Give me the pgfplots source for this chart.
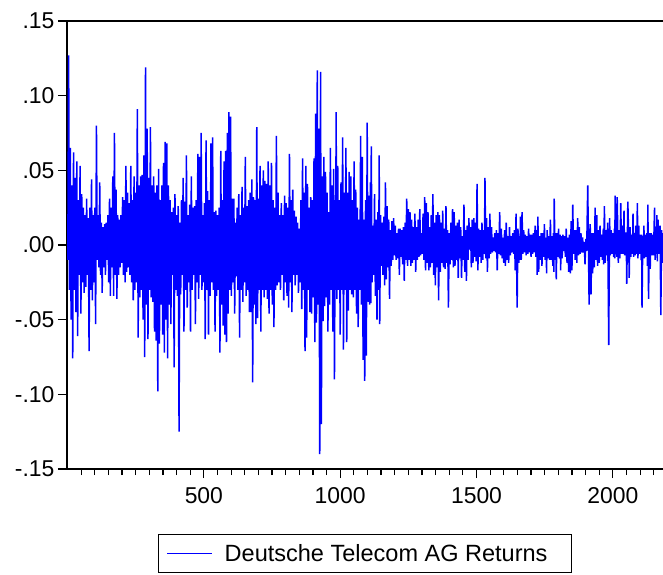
\documentclass[border=0pt]{standalone}
\usepackage{fontspec}
\setmainfont{Liberation Sans}
\usepackage{pgfplots}
\pgfplotsset{compat=1.18}
\begin{document}
\begin{tikzpicture}
\begin{axis}[
  scale only axis,
  width=596bp, height=448bp,
  xmin=-2, xmax=2184,
  ymin=-0.15, ymax=0.15,
  axis x line*=box, axis y line*=left,
  axis line style={line width=1.6bp, black},
  xtick={500,1000,1500,2000},
  xticklabels={500,1000,1500,2000},
  minor xtick={50,100,...,2150},
  ytick={-0.15,-0.10,-0.05,0,0.05,0.10,0.15},
  yticklabels={-.15,-.10,-.05,.00,.05,.10,.15},
  tick align=outside,
  xtick pos=bottom, ytick pos=left,
  major tick length=9bp, minor tick length=6bp,
  every tick/.style={black, line width=1.2bp},
  tick label style={font=\fontsize{23}{27}\selectfont},
  xticklabel style={yshift=-6bp},
  legend style={at={(0.5,-0.1451)}, anchor=north, draw=black, line width=1bp,
    inner xsep=8bp, inner ysep=6.5bp, nodes={inner sep=3bp},
    font=\fontsize{23.6}{28}\selectfont},
  legend image code/.code={\draw[#1, line width=1.2bp] (0bp,0bp) -- (45bp,0bp);},
]
\addplot[blue, line width=1.5bp] coordinates {
(1,-0.010)(4,0.127)(7,-0.030)(10,0.065)(13,-0.050)(16,0.040)(19,-0.076)(22,0.062)(25,-0.030)(28,0.045)(31,-0.045)(34,0.056)(37,-0.061)(40,0.030)(43,-0.020)(46,0.053)(49,-0.046)(52,0.034)(55,-0.025)(58,0.025)(61,-0.032)(64,0.020)(67,-0.028)(70,0.031)(73,-0.020)(76,0.018)(79,-0.071)(82,0.025)(85,-0.030)(88,0.044)(91,-0.037)(94,0.020)(97,-0.025)(100,0.025)(103,-0.053)(106,0.080)(109,-0.010)(112,0.020)(115,-0.015)(118,0.042)(121,-0.020)(124,0.015)(127,-0.032)(130,0.012)(133,-0.015)(136,0.014)(139,-0.020)(142,0.015)(145,-0.010)(148,0.020)(151,-0.025)(154,0.031)(157,-0.034)(160,0.025)(163,-0.015)(166,0.046)(169,-0.034)(172,0.075)(175,-0.020)(178,0.037)(181,-0.036)(184,0.020)(187,-0.020)(190,0.017)(193,-0.015)(196,0.020)(199,-0.012)(202,0.032)(205,-0.020)(208,0.030)(211,-0.025)(214,0.053)(217,-0.018)(220,0.035)(223,-0.015)(226,0.028)(229,-0.020)(232,0.053)(235,-0.025)(238,0.030)(241,-0.037)(244,0.046)(247,-0.030)(250,0.035)(253,-0.025)(256,0.091)(259,-0.062)(262,0.040)(265,-0.035)(268,0.046)(271,-0.030)(274,0.047)(277,-0.050)(280,0.060)(283,-0.075)(286,0.119)(289,-0.040)(292,0.078)(295,-0.063)(298,0.045)(301,-0.030)(304,0.079)(307,-0.035)(310,0.040)(313,-0.038)(316,0.046)(319,-0.058)(322,0.035)(325,-0.064)(328,0.040)(331,-0.098)(334,0.051)(337,-0.066)(340,0.030)(343,-0.040)(346,0.040)(349,-0.060)(352,0.055)(355,-0.072)(358,0.069)(361,-0.050)(364,0.068)(367,-0.076)(370,0.040)
(373,-0.040)(376,0.030)(379,-0.053)(382,0.022)(385,-0.020)(388,0.025)(391,-0.082)(394,0.034)(397,-0.030)(400,0.020)(403,-0.034)(406,0.026)(409,-0.125)(412,0.015)(415,-0.033)(418,0.030)(421,-0.020)(424,0.045)(427,-0.058)(430,0.029)(433,-0.030)(436,0.060)(439,-0.042)(442,0.020)(445,-0.025)(448,0.027)(451,-0.058)(454,0.046)(457,-0.030)(460,0.025)(463,-0.020)(466,0.026)(469,-0.053)(472,0.030)(475,-0.025)(478,0.061)(481,-0.036)(484,0.059)(487,-0.020)(490,0.075)(493,-0.030)(496,0.020)(499,-0.025)(502,0.028)(505,-0.063)(508,0.070)(511,-0.030)(514,0.036)(517,-0.060)(520,0.030)(523,-0.034)(526,0.068)(529,-0.025)(532,0.072)(535,-0.030)(538,0.022)(541,-0.058)(544,0.023)(547,-0.034)(550,0.020)(553,-0.030)(556,0.025)(559,-0.072)(562,0.063)(565,-0.040)(568,0.030)(571,-0.054)(574,0.056)(577,-0.060)(580,0.063)(583,-0.065)(586,0.075)(589,-0.046)(592,0.089)(595,-0.030)(598,0.086)(601,-0.034)(604,0.031)(607,-0.025)(610,0.031)(613,-0.046)(616,0.015)(619,-0.021)(622,0.025)(625,-0.030)(628,0.034)(631,-0.062)(634,0.020)(637,-0.030)(640,0.039)(643,-0.038)(646,0.025)(649,-0.025)(652,0.059)(655,-0.034)(658,0.026)(661,-0.030)(664,0.030)(667,-0.045)(670,0.035)(673,-0.045)(676,0.044)(679,-0.092)(682,0.032)(685,-0.040)(688,0.030)(691,-0.053)(694,0.079)(697,-0.049)(700,0.031)(703,-0.030)(706,0.053)(709,-0.058)(712,0.040)(715,-0.030)(718,0.050)(721,-0.035)(724,0.043)(727,-0.030)(730,0.041)(733,-0.036)(736,0.056)(739,-0.046)
(742,0.040)(745,-0.030)(748,0.055)(751,-0.040)(754,0.030)(757,-0.055)(760,0.025)(763,-0.030)(766,0.073)(769,-0.027)(772,0.035)(775,-0.025)(778,0.020)(781,-0.030)(784,0.028)(787,-0.020)(790,0.020)(793,-0.037)(796,0.033)(799,-0.025)(802,0.028)(805,-0.034)(808,0.025)(811,-0.042)(814,0.061)(817,-0.025)(820,0.030)(823,-0.045)(826,0.037)(829,-0.020)(832,0.023)(835,-0.027)(838,0.019)(841,-0.020)(844,0.015)(847,-0.032)(850,0.011)(853,-0.025)(856,0.030)(859,-0.043)(862,0.058)(865,-0.030)(868,0.035)(871,-0.071)(874,0.053)(877,-0.062)(880,0.041)(883,-0.030)(886,0.025)(889,-0.045)(892,0.032)(895,-0.046)(898,0.030)(901,-0.035)(904,0.058)(907,-0.065)(910,0.088)(913,-0.052)(916,0.117)(919,-0.040)(922,0.078)(925,-0.140)(928,0.116)(931,-0.120)(934,0.046)(937,-0.051)(940,0.059)(943,-0.041)(946,0.049)(949,-0.035)(952,0.035)(955,-0.058)(958,0.022)(961,-0.040)(964,0.065)(967,-0.030)(970,0.040)(973,-0.058)(976,0.051)(979,-0.090)(982,0.030)(983.5,-0.030)(985,0.089)(988,-0.036)(991,0.053)(994,-0.030)(997,0.030)(1000,-0.060)(1003,0.042)(1006,-0.030)(1009,0.072)(1012,-0.070)(1015,0.035)(1018,-0.030)(1021,0.065)(1024,-0.065)(1027,0.035)(1030,-0.044)(1033,0.049)(1036,-0.030)(1039,0.046)(1042,-0.033)(1045,0.030)(1048,-0.035)(1051,0.056)(1054,-0.030)(1057,0.037)(1060,-0.046)(1063,0.025)(1066,-0.055)(1069,0.017)(1072,-0.030)(1075,0.073)(1078,-0.040)(1081,0.059)(1084,-0.077)(1087,0.017)(1090,-0.091)(1093,0.030)(1096,-0.074)(1099,0.082)(1102,-0.038)(1105,0.033)(1108,-0.040)
(1111,0.042)(1112.5,-0.039)(1114,0.066)(1117,-0.025)(1120,0.013)(1123,-0.020)(1126,0.034)(1129,-0.034)(1132,0.017)(1135,-0.050)(1138,0.022)(1141,-0.030)(1143,0.060)(1145,-0.053)(1148,0.020)(1151,-0.014)(1154,0.015)(1157,-0.020)(1160,0.019)(1163,-0.027)(1166,0.042)(1169,-0.023)(1172,0.026)(1175,-0.015)(1178,0.017)(1181,-0.036)(1184,0.010)(1187,-0.014)(1190,0.016)(1193,-0.010)(1196,0.018)(1199,-0.007)(1202,0.013)(1205,-0.010)(1208,0.008)(1211,-0.009)(1214,0.011)(1217,-0.020)(1220,0.011)(1223,-0.008)(1226,0.010)(1229,-0.013)(1232,0.012)(1235,-0.024)(1238,0.015)(1241,-0.010)(1244,0.031)(1247,-0.014)(1250,0.024)(1253,-0.010)(1256,0.022)(1259,-0.014)(1262,0.017)(1265,-0.012)(1268,0.012)(1271,-0.010)(1274,0.021)(1277,-0.018)(1280,0.012)(1283,-0.010)(1286,0.017)(1289,-0.008)(1292,0.024)(1295,-0.007)(1298,0.008)(1301,-0.006)(1304,0.021)(1307,-0.010)(1310,0.032)(1313,-0.017)(1316,0.028)(1319,-0.012)(1322,0.022)(1325,-0.017)(1328,0.012)(1331,-0.015)(1334,0.020)(1337,-0.012)(1340,0.034)(1343,-0.020)(1346,0.015)(1349,-0.027)(1352,0.020)(1355,-0.015)(1358,0.022)(1361,-0.037)(1364,0.020)(1367,-0.018)(1370,0.015)(1373,-0.012)(1376,0.023)(1379,-0.015)(1382,0.011)(1385,-0.016)(1388,0.026)(1391,-0.012)(1394,0.010)(1397,-0.042)(1400,0.008)(1403,-0.013)(1406,0.015)(1409,-0.010)(1412,0.024)(1415,-0.015)(1418,0.022)(1421,-0.014)(1424,0.013)(1427,-0.010)(1430,0.015)(1433,-0.022)(1436,0.017)(1439,-0.009)(1442,0.012)(1445,-0.022)(1448,0.006)(1451,-0.010)(1454,0.027)(1457,-0.018)(1460,0.010)(1463,-0.024)(1466,0.013)(1469,-0.010)(1472,0.018)(1475,-0.003)(1478,0.012)
(1481,-0.015)(1484,0.017)(1487,-0.012)(1490,0.018)(1493,-0.008)(1496,0.015)(1499,-0.011)(1502,0.041)(1505,-0.017)(1508,0.011)(1511,-0.008)(1514,0.010)(1517,-0.012)(1520,0.015)(1523,-0.010)(1526,0.010)(1529,-0.006)(1531,0.045)(1534,-0.009)(1537,0.018)(1540,-0.018)(1543,0.012)(1546,-0.009)(1549,0.021)(1552,-0.006)(1555,0.012)(1558,-0.005)(1561,0.005)(1564,-0.004)(1567,0.008)(1570,-0.005)(1573,0.010)(1576,-0.017)(1579,0.008)(1582,-0.006)(1585,0.022)(1588,-0.007)(1591,0.011)(1594,-0.009)(1597,0.005)(1600,-0.012)(1603,0.010)(1606,-0.014)(1609,0.015)(1612,-0.010)(1615,0.006)(1618,-0.012)(1621,0.012)(1624,-0.007)(1627,0.006)(1630,-0.005)(1633,0.008)(1636,-0.006)(1639,0.010)(1642,-0.017)(1645,0.021)(1649,-0.042)(1652,0.011)(1655,-0.012)(1658,0.006)(1659.5,-0.010)(1661,0.019)(1664,-0.010)(1667,0.022)(1670,-0.006)(1673,0.010)(1676,-0.005)(1679,0.007)(1682,-0.007)(1685,0.006)(1688,-0.006)(1691,0.011)(1694,-0.005)(1697,0.007)(1700,-0.008)(1703,0.007)(1706,-0.006)(1709,0.008)(1712,-0.005)(1715,0.013)(1718,-0.008)(1721,0.010)(1722.5,-0.020)(1725,0.019)(1728,-0.018)(1731,0.006)(1734,-0.010)(1737,0.008)(1740,-0.014)(1743,0.008)(1746,-0.008)(1749,0.014)(1752,-0.010)(1755,0.005)(1757,-0.019)(1759,0.010)(1762,-0.009)(1765,0.006)(1768,-0.010)(1771,0.017)(1774,-0.010)(1777,0.006)(1780,-0.014)(1782,0.008)(1783.5,-0.018)(1785,0.031)(1788,-0.010)(1791,0.008)(1792.5,-0.023)(1795,0.008)(1798,-0.008)(1801,0.011)(1804,-0.009)(1807,0.007)(1808.5,-0.017)(1811,0.006)(1814,-0.009)(1817,0.007)(1820,-0.004)(1823,0.006)(1826,-0.008)(1829,0.011)(1832,-0.012)(1835,0.005)(1838,-0.018)(1841,0.007)
(1844,-0.019)(1847,0.016)(1850,-0.017)(1853,0.027)(1856,-0.006)(1859,0.010)(1862,-0.010)(1865,0.010)(1868,-0.012)(1871,0.018)(1874,-0.007)(1877,0.012)(1880,-0.006)(1883,0.008)(1886,-0.005)(1889,0.005)(1892,-0.005)(1895,0.002)(1898,-0.013)(1901,0.004)(1904,-0.004)(1908,0.040)(1913,-0.040)(1917,0.014)(1920,-0.033)(1923,0.008)(1926,-0.019)(1929,0.008)(1932,-0.015)(1935,0.025)(1938,-0.010)(1941,0.020)(1944,-0.014)(1947,0.010)(1950,-0.012)(1953,0.013)(1956,-0.008)(1959,0.007)(1962,-0.010)(1965,0.011)(1966.5,-0.013)(1969,0.026)(1972,-0.012)(1975,0.010)(1978,-0.007)(1981,0.015)(1985,-0.067)(1988,0.018)(1991,-0.007)(1994,0.010)(1997,-0.006)(2000,0.008)(2003,-0.008)(2006,0.011)(2007,-0.009)(2008.5,0.033)(2011,-0.006)(2013,0.008)(2014.5,-0.008)(2016,0.032)(2020,-0.012)(2023,0.010)(2026,-0.009)(2029,0.028)(2032,-0.006)(2035,0.013)(2038,-0.006)(2041,0.023)(2043,-0.007)(2046,0.008)(2049,0.008)(2051,-0.026)(2055,0.029)(2058,0.006)(2060,-0.022)(2063,0.012)(2066,-0.008)(2069,0.007)(2072,-0.006)(2074,0.021)(2076,-0.008)(2079,0.008)(2082,-0.007)(2084,0.013)(2087,-0.006)(2090,0.028)(2092,-0.009)(2095,0.013)(2098,-0.006)(2101,0.007)(2104,-0.010)(2105.5,0.007)(2107,-0.042)(2110,0.006)(2112,-0.008)(2114,0.013)(2116,-0.009)(2119,0.007)(2122,-0.008)(2125,0.008)(2127,-0.014)(2128.5,0.027)(2131,-0.036)(2134,0.008)(2137,-0.016)(2140,0.008)(2143,-0.007)(2146,0.007)(2149,-0.007)(2153,0.025)(2155,-0.010)(2158,0.012)(2160,-0.006)(2161.5,0.020)(2163,-0.011)(2166,0.017)(2169,-0.006)(2173,0.013)(2176,-0.047)(2179,0.010)(2182,-0.012)(2184,0.008)
};
\addlegendentry{\rule{9bp}{0pt}Deutsche Telecom AG Returns\rule{13bp}{0pt}}
\end{axis}
\pgfresetboundingbox
\path[use as bounding box] ([xshift=-67bp,yshift=-106bp]current axis.south west) rectangle ([yshift=21bp]current axis.north east);
\end{tikzpicture}
\end{document}
